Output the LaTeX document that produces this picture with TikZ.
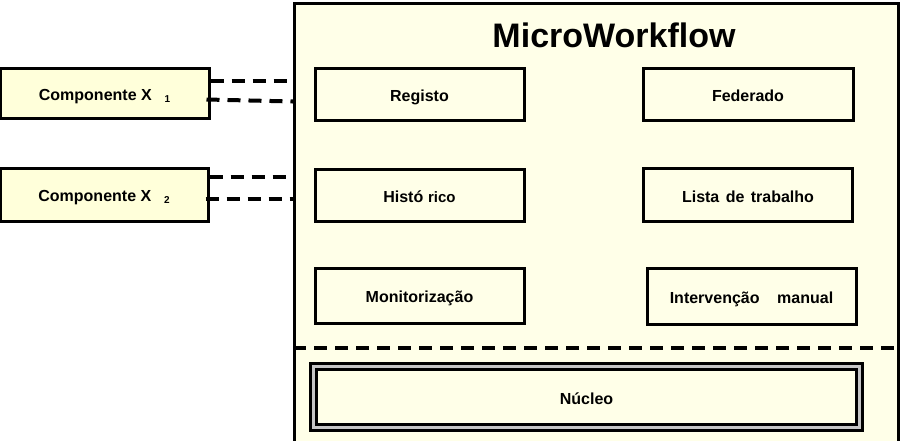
\documentclass[tikz,border=0pt]{standalone}
\usepackage{fontspec}
\setmainfont{Liberation Sans}
\usetikzlibrary{calc}
\definecolor{bgy}{HTML}{FFFFE8}
\definecolor{cy}{HTML}{FFFFDA}
\begin{document}
\begin{tikzpicture}[x=1pt,y=-1pt,
  mod/.style={draw=black, line width=3pt, fill=bgy, inner sep=0pt,
    text height=15pt, text depth=1pt,
    font=\fontsize{16}{19}\selectfont\bfseries},
  comp/.style={mod, fill=cy},
  dline/.style={line width=4pt, dash pattern=on 13pt off 8pt}]
\useasboundingbox (0,0) rectangle (904,440);
\begin{scope}
\clip (0,0) rectangle (904,440);
\node[draw=black, line width=3pt, fill=bgy, minimum width=604pt, minimum height=460pt, inner sep=0pt, anchor=north west] (main) at (293,2) {};
\end{scope}
\node[font=\fontsize{34}{40}\selectfont\bfseries] (title) at (614,35) {MicroWorkflow};

\node[comp, minimum width=209pt, minimum height=50pt] (x1) at (104.5,93) {Componente X\hspace{0.8em}{\fontsize{10}{11}\selectfont\raisebox{-0.4ex}{1}}};
\node[comp, minimum width=208pt, minimum height=53pt] (x2) at (104,194.5) {Componente X\hspace{0.8em}{\fontsize{10}{11}\selectfont\raisebox{-0.4ex}{2}}};

\node[mod, minimum width=209pt, minimum height=52pt] (reg) at (419.5,94) {Registo};
\node[mod, minimum width=210pt, minimum height=52pt] (fed) at (748,94) {Federado};
\node[mod, minimum width=209pt, minimum height=52pt] (his) at (419.5,195) {Histó\hspace{0.3em}\fontsize{15}{18}\selectfont rico};
\node[mod, minimum width=209pt, minimum height=53pt] (lis) at (748,195) {Lista\hspace{0.4em}de\hspace{0.4em}trabalho};
\node[mod, minimum width=209pt, minimum height=55pt] (mon) at (419.5,295.5) {Monitorização};
\node[mod, minimum width=209pt, minimum height=56pt] (int) at (751.5,296) {Intervenção\hspace{1.1em}manual};

\node[draw=black, line width=3pt, double=gray!45, double distance=2.5pt, fill=bgy, minimum width=546pt, minimum height=61pt, inner sep=0pt, text height=15pt, text depth=1pt, font=\fontsize{16}{19}\selectfont\bfseries] (nuc) at (586.5,397) {Núcleo};

\coordinate (s1) at (main.west |- 0,348);
\coordinate (s2) at (main.east |- 0,348);
\draw[dline] (s1) -- (s2);

\coordinate (a1) at ($(x1.north east)+(0,14)$);
\coordinate (b1) at ($(x1.north east)+(-4,33)$);
\coordinate (a2) at ($(x2.north east)+(0,10)$);
\coordinate (b2) at ($(x2.north east)+(-4,32)$);
\draw[dline] (a1) -- (main.west |- a1);
\draw[dline] (b1) -- ($(main.west |- b1)+(0,2)$);
\draw[dline] (a2) -- (main.west |- a2);
\draw[dline] (b2) -- (main.west |- b2);
\end{tikzpicture}
\end{document}
